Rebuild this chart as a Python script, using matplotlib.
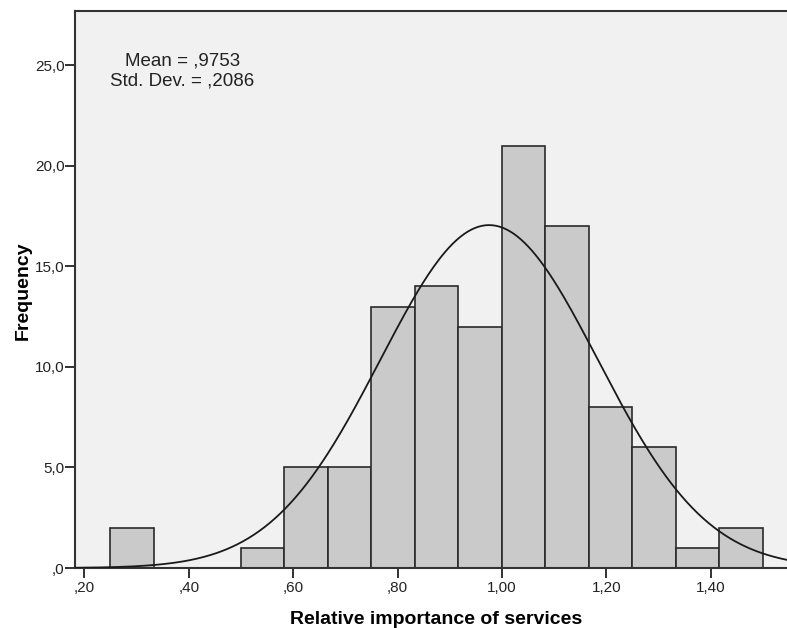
import numpy as np
import matplotlib.pyplot as plt
from matplotlib.ticker import FuncFormatter

plt.rcParams['font.family'] = ['Liberation Sans', 'DejaVu Sans']

# histogram bins (width 1/12) and counts
bin_edges = [0.25 + i / 12 for i in range(16)]
counts = [2, 0, 0, 1, 5, 5, 13, 14, 12, 21, 17, 8, 6, 1, 2]
mean = 0.9753
std = 0.2086
xticks = [0.2, 0.4, 0.6, 0.8, 1.0, 1.2, 1.4]
yticks = [0, 5, 10, 15, 20, 25]

fig = plt.figure(figsize=(7.87, 6.28), dpi=100)
ax = fig.add_axes([75 / 787, 60 / 628, 712 / 787, 557 / 628])
ax.set_facecolor('#f0f1f0')

widths = np.diff(bin_edges)
ax.bar(bin_edges[:-1], counts, width=widths, align='edge',
       color='#cacaca', edgecolor='#2a2a2a', linewidth=1.2, zorder=2)

# normal curve scaled to counts
n = sum(counts)
bw = widths[0]
xs = np.linspace(0.182, 1.546, 400)
ys = n * bw * np.exp(-0.5 * ((xs - mean) / std) ** 2) / (std * np.sqrt(2 * np.pi))
ax.plot(xs, ys, color='#1a1a1a', linewidth=1.3, zorder=3)

ax.set_xlim(0.182, 1.546)
ax.set_ylim(0, 27.7)


def comma(v, pos, fmt):
    s = fmt.format(v).replace('.', ',')
    if s.startswith('0,'):
        s = s[1:]
    return s


ax.set_xticks(xticks)
ax.set_yticks(yticks)
ax.xaxis.set_major_formatter(FuncFormatter(lambda v, p: comma(v, p, '{:.2f}')))
ax.yaxis.set_major_formatter(FuncFormatter(lambda v, p: comma(v, p, '{:.1f}')))
ax.tick_params(axis='both', direction='out', length=7, width=1.3,
               colors='#222222', labelsize=11, labelcolor='#222222')
ax.tick_params(axis='x', pad=2)
ax.tick_params(axis='y', pad=0.5)

for side in ['left', 'bottom', 'top']:
    ax.spines[side].set_color('#333333')
    ax.spines[side].set_linewidth(1.5)
ax.spines['right'].set_visible(False)

ax.set_xlabel('Relative importance of services', fontsize=14,
              fontweight='bold')
ax.xaxis.set_label_coords(0.507, -0.077)
ax.set_ylabel('Frequency', fontsize=14, fontweight='bold')
ax.yaxis.set_label_coords(-0.061, 0.497)

ax.text(0.388, 24.7, 'Mean = ,9753\nStd. Dev. = ,2086',
        ha='center', va='center', fontsize=13.5, color='#222222',
        linespacing=1.25)

fig.savefig('out.png', dpi=100)
